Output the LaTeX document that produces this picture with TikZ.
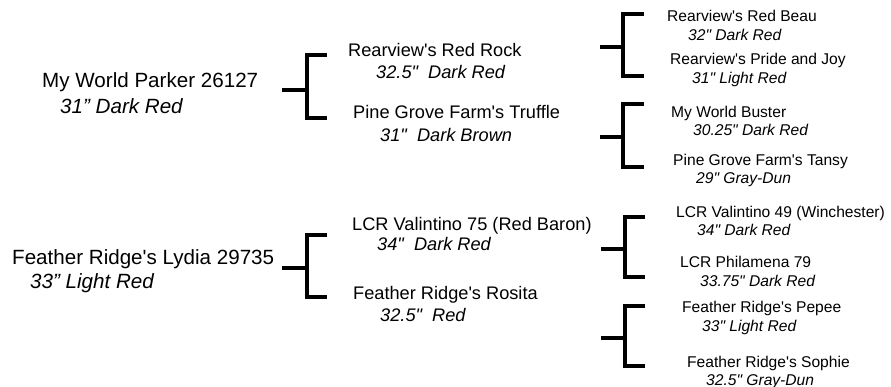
\documentclass[tikz,border=0pt]{standalone}
\usepackage{fontspec}
\setmainfont{Liberation Sans}[Ligatures=TeXOff]
\usetikzlibrary{positioning}

\begin{document}
\begin{tikzpicture}[
  x=1pt, y=-1pt,
  horse/.style={anchor=base west, inner sep=0pt},
  gA/.style={horse, node font=\fontsize{20.6}{24}\selectfont},
  gB/.style={horse, node font=\fontsize{18.2}{22}\selectfont},
  gC/.style={horse, node font=\fontsize{15.6}{19}\selectfont},
  info/.style={font=\itshape},
  brk/.style={line width=3.5pt, line cap=rect}
]
\useasboundingbox (0,0) rectangle (891,387);
% first generation
\node[gA] (MWP)  at (42,88)   {My World Parker 26127};
\node[gA,info] (MWPc) at (60,114)  {31” Dark Red};
\node[gA] (FRL)  at (12,265)  {Feather Ridge's Lydia 29735};
\node[gA,info] (FRLc) at (30,288)  {33” Light Red};
% second generation
\node[gB] (RRR)  at (348,57)  {Rearview's Red Rock};
\node[gB,info] (RRRc) at (376,79)  {32.5"\ \ Dark Red};
\node[gB] (PGT)  at (353,119) {Pine Grove Farm's Truffle};
\node[gB,info] (PGTc) at (380,142) {31"\ \ Dark Brown};
\node[gB] (LCR75)  at (352,231) {LCR Valintino 75 (Red Baron)};
\node[gB,info] (LCR75c) at (377,251) {34"\ \ Dark Red};
\node[gB] (FRR)  at (353,299) {Feather Ridge's Rosita};
\node[gB,info] (FRRc) at (380,321) {32.5"\ \ Red};
% third generation
\node[gC] (RRB)  at (667,22)  {Rearview's Red Beau};
\node[gC,info] (RRBc) at (688,41)  {32" Dark Red};
\node[gC] (RPJ)  at (670,65)  {Rearview's Pride and Joy};
\node[gC,info] (RPJc) at (692,84)  {31" Light Red};
\node[gC] (MWB)  at (671,118) {My World Buster};
\node[gC,info] (MWBc) at (693,136) {30.25" Dark Red};
\node[gC] (PGTa) at (673,166) {Pine Grove Farm's Tansy};
\node[gC,info] (PGTac) at (696,184) {29" Gray-Dun};
\node[gC] (LCR49)  at (676,218) {LCR Valintino 49 (Winchester)};
\node[gC,info] (LCR49c) at (697,236) {34" Dark Red};
\node[gC] (LCRP) at (680,268) {LCR Philamena 79};
\node[gC,info] (LCRPc) at (700,287) {33.75" Dark Red};
\node[gC] (FRP)  at (682,312) {Feather Ridge's Pepee};
\node[gC,info] (FRPc) at (702,331) {33" Light Red};
\node[gC] (FRS)  at (687,367) {Feather Ridge's Sophie};
\node[gC,info] (FRSc) at (706,385) {32.5" Gray-Dun};
% brackets
\coordinate (bMWP) at (284,90);
\coordinate (bFRL) at (284,268);
\coordinate (bRRR) at (602,47);
\coordinate (bPGT) at (602,137);
\coordinate (bLCR) at (603,249);
\coordinate (bFRR) at (603,338);
\draw[brk] (bMWP) -- ++(23,0);
\draw[brk] ([xshift=41pt,yshift=35pt]bMWP) -- ++(-18,0) -- ++(0,63) -- ++(18,0);
\draw[brk] (bFRL) -- ++(23,0);
\draw[brk] ([xshift=41pt,yshift=33pt]bFRL) -- ++(-18,0) -- ++(0,62) -- ++(18,0);
\draw[brk] (bRRR) -- ++(21,0);
\draw[brk] ([xshift=40pt,yshift=33pt]bRRR) -- ++(-19,0) -- ++(0,62) -- ++(19,0);
\draw[brk] (bPGT) -- ++(21,0);
\draw[brk] ([xshift=40pt,yshift=33pt]bPGT) -- ++(-19,0) -- ++(0,63) -- ++(19,0);
\draw[brk] (bLCR) -- ++(22,0);
\draw[brk] ([xshift=40pt,yshift=32pt]bLCR) -- ++(-18,0) -- ++(0,60) -- ++(18,0);
\draw[brk] (bFRR) -- ++(22,0);
\draw[brk] ([xshift=40pt,yshift=32pt]bFRR) -- ++(-18,0) -- ++(0,60) -- ++(18,0);
\end{tikzpicture}
\end{document}
